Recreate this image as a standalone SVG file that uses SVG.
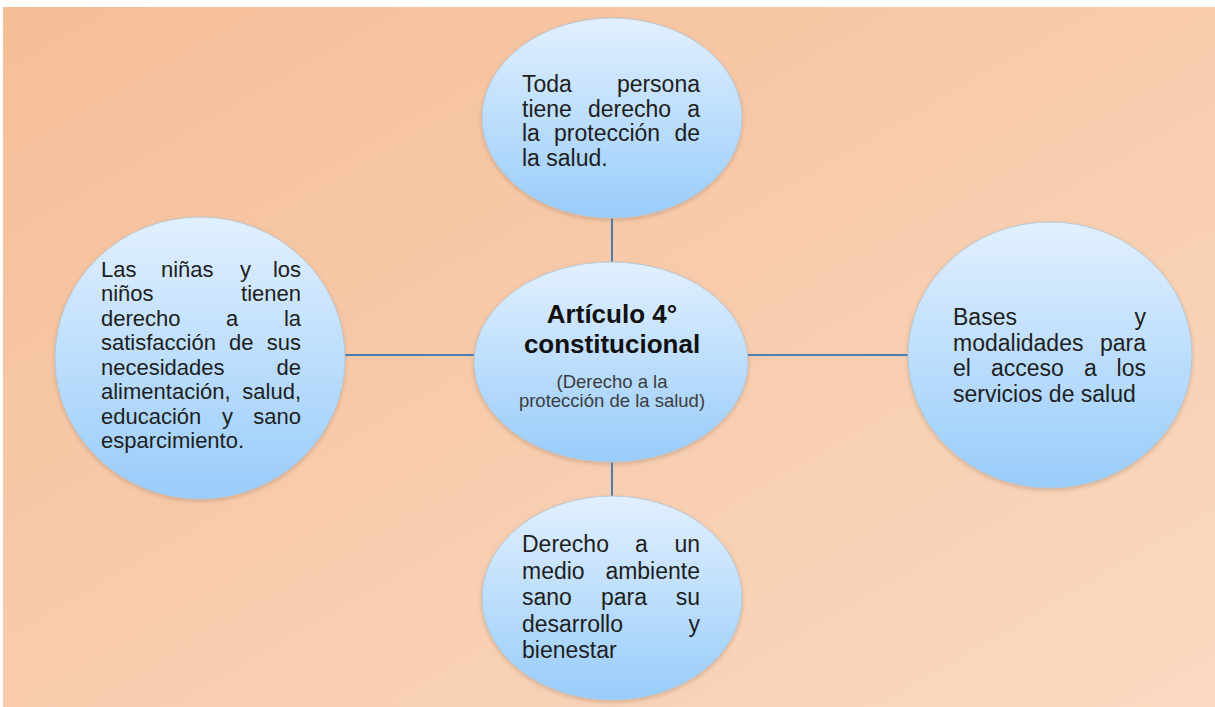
<svg xmlns="http://www.w3.org/2000/svg" width="1215" height="707" viewBox="0 0 1215 707">
<defs>
<linearGradient id="bg" x1="0" y1="0" x2="1" y2="1">
<stop offset="0" stop-color="#F5BE97"/>
<stop offset="1" stop-color="#FAD9C2"/>
</linearGradient>
<linearGradient id="blob" x1="0" y1="0" x2="0" y2="1">
<stop offset="0" stop-color="#E2F0FE"/>
<stop offset="1" stop-color="#98CCFA"/>
</linearGradient>
<filter id="sh" x="-10%" y="-10%" width="120%" height="125%">
<feDropShadow dx="0" dy="2" stdDeviation="2" flood-color="#8a6a50" flood-opacity="0.35"/>
</filter>
<style>
.node ellipse{fill:url(#blob);stroke:#B9C9D6;stroke-width:1;filter:url(#sh)}
.t{font-family:"Liberation Sans",Arial,sans-serif;fill:#1E1E1E}
.f23{font-size:23px}
.f22{font-size:22px}
.e{text-anchor:end}
.title{font-family:"Liberation Sans",Arial,sans-serif;font-weight:bold;font-size:26px;fill:#111;text-anchor:middle}
.sub{font-family:"Liberation Sans",Arial,sans-serif;font-size:18.5px;fill:#3C3C3C;text-anchor:middle}
.conn line{stroke:#4A7DB8;stroke-width:2}
</style>
</defs>
<rect x="0" y="0" width="1215" height="707" fill="#FFFFFF"/>
<rect x="3" y="7" width="1212" height="700" fill="url(#bg)"/>

<g class="conn">
<line x1="612" y1="217" x2="612" y2="264"/>
<line x1="612" y1="461" x2="612" y2="498"/>
<line x1="344" y1="355" x2="476" y2="355"/>
<line x1="747" y1="355" x2="910" y2="355"/>
</g>

<g id="top" class="node">
<ellipse cx="612" cy="118" rx="130" ry="100"/>
<text class="t f23" x="522" y="92">Toda</text><text class="t f23 e" x="700" y="92">persona</text>
<text class="t f23" x="522" y="116.7">tiene</text><text class="t f23" x="588" y="116.7">derecho</text><text class="t f23 e" x="700" y="116.7">a</text>
<text class="t f23" x="522" y="141.4">la</text><text class="t f23" x="554" y="141.4">protección</text><text class="t f23 e" x="700" y="141.4">de</text>
<text class="t f23" x="522" y="166">la salud.</text>
</g>

<g id="center" class="node">
<ellipse cx="611" cy="362" rx="137" ry="100"/>
<text class="title" x="612" y="323">Artículo 4°</text>
<text class="title" x="612" y="353">constitucional</text>
<text class="sub" x="612" y="388">(Derecho a la</text>
<text class="sub" x="612" y="407">protección de la salud)</text>
</g>

<g id="left" class="node">
<ellipse cx="200" cy="358" rx="145" ry="141"/>
<text class="t f22" x="101" y="276.5">Las</text><text class="t f22" x="161" y="276.5">niñas</text><text class="t f22" x="240" y="276.5">y</text><text class="t f22 e" x="301" y="276.5">los</text>
<text class="t f22" x="101" y="301">niños</text><text class="t f22 e" x="301" y="301">tienen</text>
<text class="t f22" x="101" y="325.5">derecho</text><text class="t f22" x="226" y="325.5">a</text><text class="t f22 e" x="301" y="325.5">la</text>
<text class="t f22" x="101" y="350">satisfacción</text><text class="t f22" x="229" y="350">de</text><text class="t f22 e" x="301" y="350">sus</text>
<text class="t f22" x="101" y="374.5">necesidades</text><text class="t f22 e" x="301" y="374.5">de</text>
<text class="t f22" x="101" y="399">alimentación,</text><text class="t f22 e" x="301" y="399">salud,</text>
<text class="t f22" x="101" y="423.5">educación</text><text class="t f22" x="222" y="423.5">y</text><text class="t f22 e" x="301" y="423.5">sano</text>
<text class="t f22" x="101" y="448">esparcimiento.</text>
</g>

<g id="right" class="node">
<ellipse cx="1050" cy="355" rx="142" ry="133"/>
<text class="t f23" x="953" y="325">Bases</text><text class="t f23 e" x="1146" y="325">y</text>
<text class="t f23" x="953" y="350.5">modalidades</text><text class="t f23 e" x="1146" y="350.5">para</text>
<text class="t f23" x="953" y="376">el</text><text class="t f23" x="991" y="376">acceso</text><text class="t f23" x="1084" y="376">a</text><text class="t f23 e" x="1146" y="376">los</text>
<text class="t f23" x="953" y="401.5">servicios de salud</text>
</g>

<g id="bottom" class="node">
<ellipse cx="612" cy="598" rx="130" ry="102"/>
<text class="t f23" x="522" y="552">Derecho</text><text class="t f23" x="635" y="552">a</text><text class="t f23 e" x="700" y="552">un</text>
<text class="t f23" x="522" y="578.5">medio</text><text class="t f23 e" x="700" y="578.5">ambiente</text>
<text class="t f23" x="522" y="605">sano</text><text class="t f23" x="601" y="605">para</text><text class="t f23 e" x="700" y="605">su</text>
<text class="t f23" x="522" y="631.5">desarrollo</text><text class="t f23 e" x="700" y="631.5">y</text>
<text class="t f23" x="522" y="658">bienestar</text>
</g>
</svg>
